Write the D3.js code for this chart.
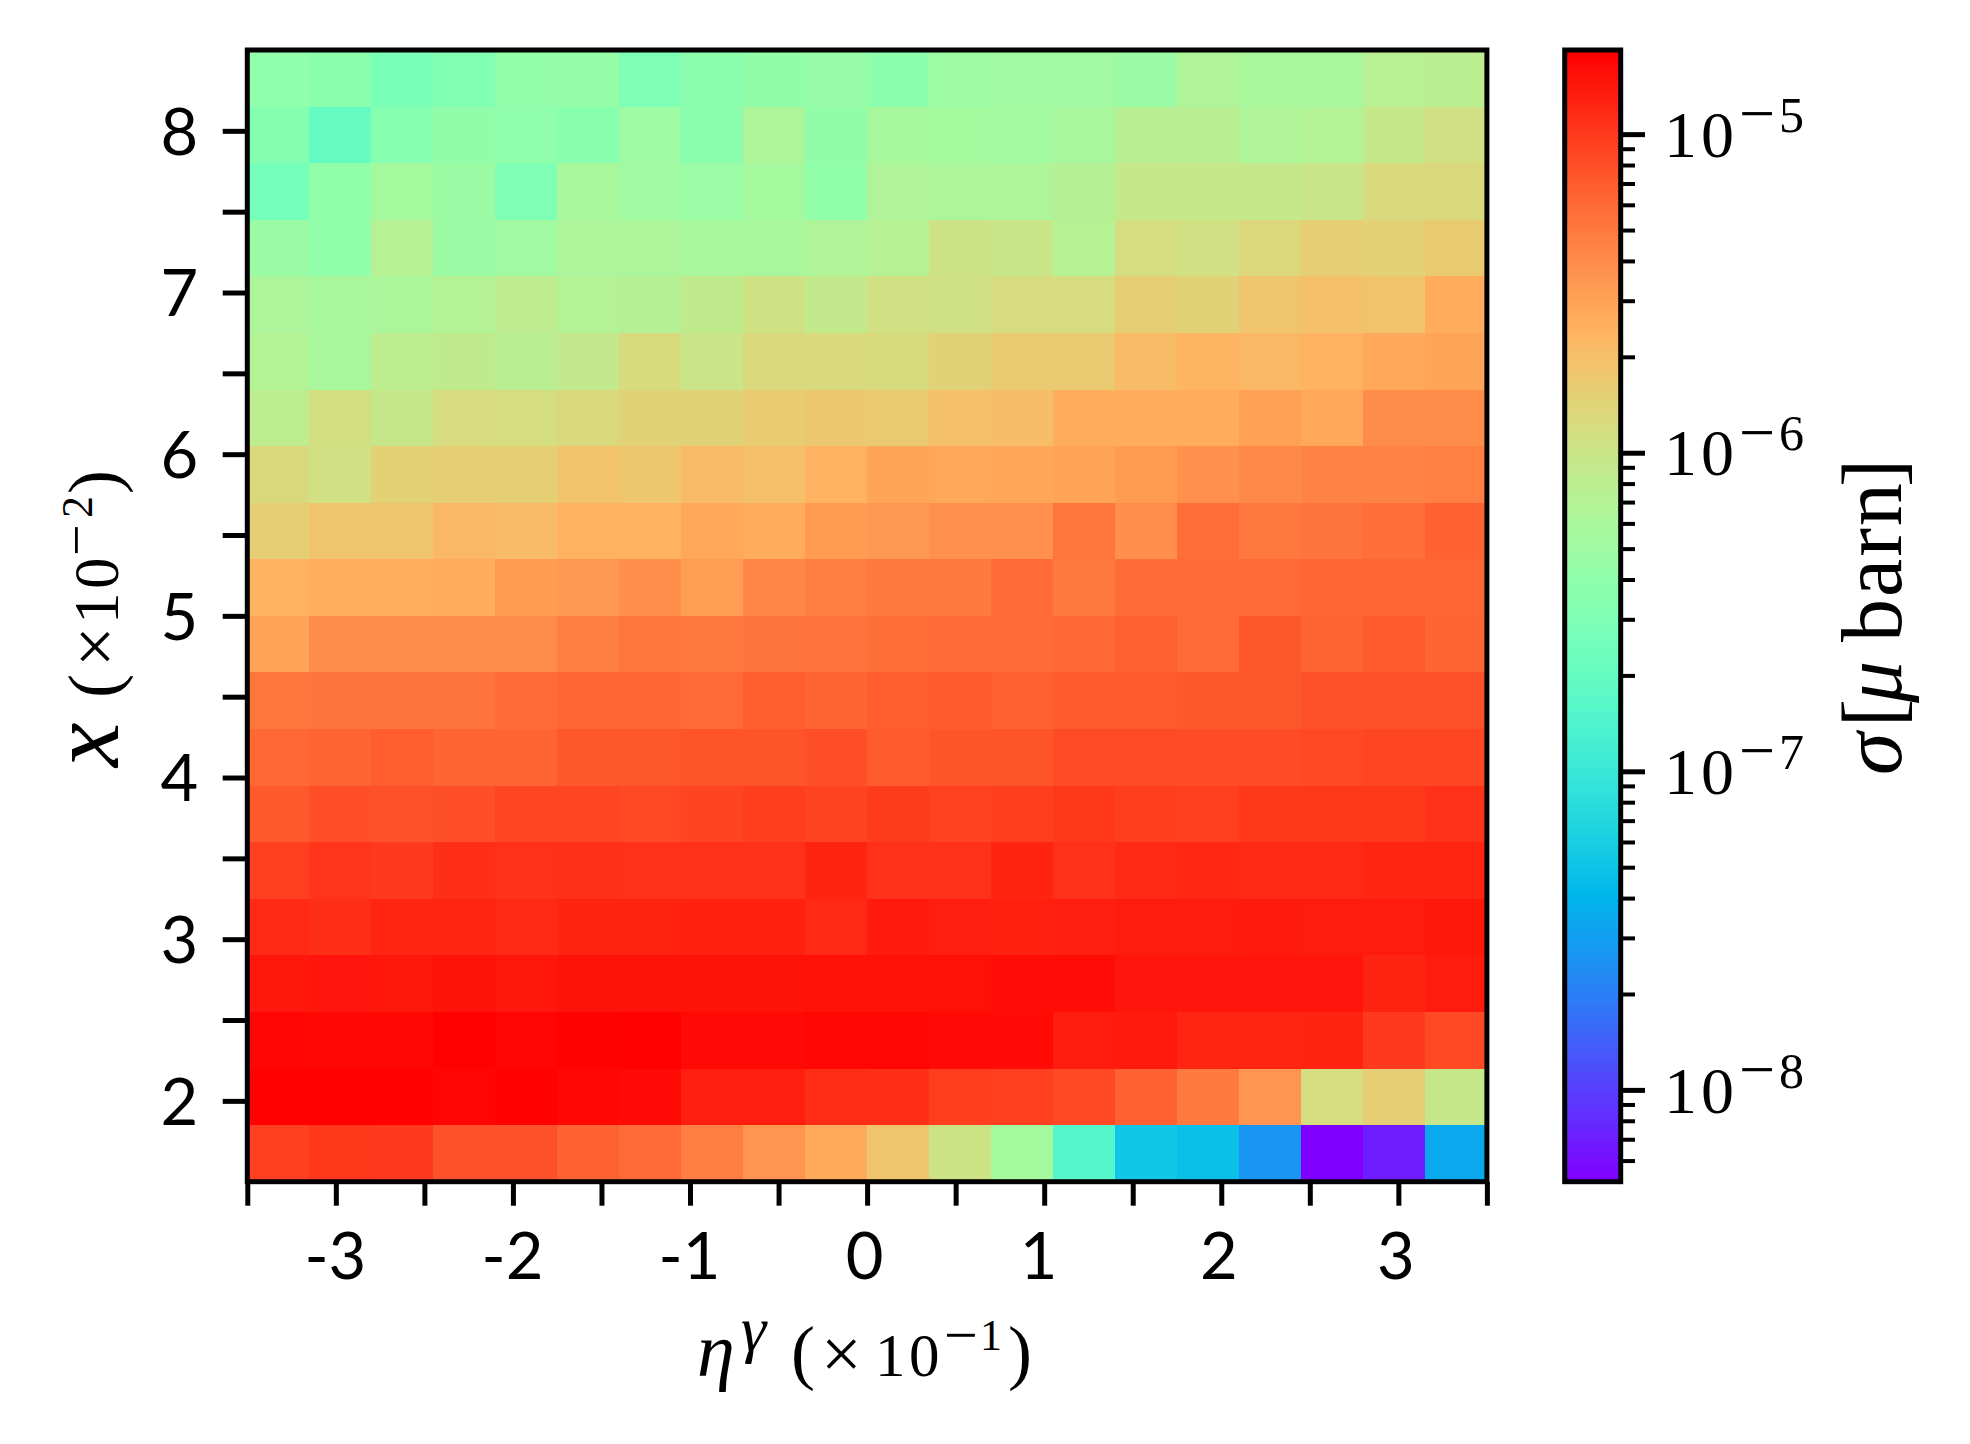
<!DOCTYPE html>
<html>
<head>
<meta charset="utf-8">
<script src="https://cdn.jsdelivr.net/npm/d3@7"></script>
<style>
  body { margin: 0; background: white; }
  .sans { font-family: "Lato", sans-serif; }
  .serif { font-family: "Liberation Serif", serif; }
</style>
</head>
<body>
<div id="chart"></div>
<script>
// bin edges of the 2d histogram
var etaEdges = [-3.5, -3.15, -2.8, -2.45, -2.1, -1.75, -1.4, -1.05, -0.7, -0.35, 0, 0.35, 0.7, 1.05, 1.4, 1.75, 2.1, 2.45, 2.8, 3.15, 3.5];
var xEdges = [8.5, 8.15, 7.8, 7.45, 7.1, 6.75, 6.4, 6.05, 5.7, 5.35, 5, 4.65, 4.3, 3.95, 3.6, 3.25, 2.9, 2.55, 2.2, 1.85, 1.5];

// log10(sigma) per bin, top row first
var row00 = [-6.40, -6.43, -6.55, -6.50, -6.37, -6.36, -6.52, -6.43, -6.38, -6.35, -6.42, -6.31, -6.28, -6.28, -6.32, -6.18, -6.23, -6.23, -6.12, -6.10];
var row01 = [-6.48, -6.70, -6.47, -6.38, -6.40, -6.45, -6.30, -6.44, -6.19, -6.38, -6.24, -6.26, -6.27, -6.23, -6.11, -6.11, -6.18, -6.15, -6.03, -5.95];
var row02 = [-6.58, -6.39, -6.26, -6.32, -6.52, -6.22, -6.28, -6.33, -6.26, -6.39, -6.18, -6.20, -6.19, -6.14, -6.03, -6.03, -6.03, -6.01, -5.89, -5.88];
var row03 = [-6.32, -6.39, -6.13, -6.32, -6.28, -6.20, -6.20, -6.23, -6.23, -6.18, -6.13, -5.97, -6.01, -6.13, -5.92, -5.95, -5.87, -5.80, -5.82, -5.77];
var row04 = [-6.20, -6.22, -6.21, -6.15, -6.07, -6.15, -6.14, -6.06, -5.96, -6.05, -5.95, -5.96, -5.91, -5.91, -5.80, -5.83, -5.73, -5.70, -5.72, -5.58];
var row05 = [-6.15, -6.23, -6.08, -6.06, -6.11, -6.05, -5.90, -6.00, -5.88, -5.89, -5.90, -5.83, -5.77, -5.77, -5.67, -5.62, -5.65, -5.61, -5.55, -5.53];
var row06 = [-6.08, -5.94, -6.02, -5.91, -5.92, -5.88, -5.83, -5.83, -5.78, -5.75, -5.77, -5.70, -5.68, -5.58, -5.58, -5.57, -5.50, -5.55, -5.40, -5.40];
var row07 = [-5.88, -5.95, -5.82, -5.80, -5.81, -5.72, -5.74, -5.67, -5.70, -5.61, -5.53, -5.55, -5.54, -5.52, -5.48, -5.42, -5.38, -5.35, -5.35, -5.33];
var row08 = [-5.80, -5.73, -5.73, -5.65, -5.67, -5.61, -5.61, -5.55, -5.57, -5.48, -5.46, -5.42, -5.42, -5.28, -5.41, -5.24, -5.29, -5.27, -5.24, -5.18];
var row09 = [-5.61, -5.59, -5.59, -5.58, -5.48, -5.46, -5.41, -5.49, -5.36, -5.32, -5.29, -5.30, -5.22, -5.30, -5.23, -5.22, -5.22, -5.20, -5.20, -5.20];
var row10 = [-5.52, -5.40, -5.40, -5.40, -5.40, -5.32, -5.28, -5.29, -5.27, -5.26, -5.25, -5.23, -5.23, -5.21, -5.17, -5.22, -5.13, -5.19, -5.15, -5.19];
var row11 = [-5.28, -5.27, -5.27, -5.27, -5.23, -5.20, -5.20, -5.22, -5.16, -5.19, -5.16, -5.15, -5.17, -5.15, -5.15, -5.13, -5.13, -5.10, -5.10, -5.10];
var row12 = [-5.21, -5.19, -5.16, -5.19, -5.19, -5.13, -5.13, -5.11, -5.11, -5.09, -5.15, -5.11, -5.11, -5.07, -5.07, -5.08, -5.08, -5.06, -5.05, -5.05];
var row13 = [-5.14, -5.09, -5.10, -5.09, -5.05, -5.05, -5.06, -5.04, -5.01, -5.04, -5.00, -5.03, -5.01, -4.98, -5.01, -5.02, -4.98, -4.98, -4.98, -4.96];
var row14 = [-5.02, -4.97, -4.99, -4.94, -4.96, -4.95, -4.96, -4.96, -4.96, -4.89, -4.96, -4.96, -4.89, -4.96, -4.92, -4.91, -4.92, -4.92, -4.90, -4.90];
var row15 = [-4.92, -4.94, -4.90, -4.90, -4.92, -4.89, -4.89, -4.88, -4.88, -4.92, -4.85, -4.87, -4.88, -4.87, -4.86, -4.86, -4.85, -4.86, -4.86, -4.84];
var row16 = [-4.84, -4.83, -4.84, -4.82, -4.84, -4.82, -4.82, -4.82, -4.82, -4.81, -4.81, -4.81, -4.79, -4.79, -4.83, -4.83, -4.83, -4.83, -4.89, -4.86];
var row17 = [-4.76, -4.77, -4.77, -4.74, -4.76, -4.75, -4.74, -4.78, -4.78, -4.77, -4.77, -4.78, -4.78, -4.86, -4.85, -4.90, -4.90, -4.89, -4.99, -5.06];
var row18 = [-4.74, -4.74, -4.74, -4.76, -4.74, -4.77, -4.78, -4.87, -4.87, -4.93, -4.94, -5.01, -5.02, -5.06, -5.17, -5.30, -5.44, -5.92, -5.80, -6.02];
var row19 = [-5.02, -4.98, -4.99, -5.10, -5.10, -5.18, -5.22, -5.32, -5.44, -5.56, -5.73, -5.97, -6.26, -6.81, -7.28, -7.33, -7.58, -8.29, -8.16, -7.47];

var rows = [row00, row01, row02, row03, row04, row05, row06, row07, row08, row09,
            row10, row11, row12, row13, row14, row15, row16, row17, row18, row19];

var etaTicks = [-3.5, -3, -2.5, -2, -1.5, -1, -0.5, 0, 0.5, 1, 1.5, 2, 2.5, 3, 3.5];
var xTicks = [2, 2.5, 3, 3.5, 4, 4.5, 5, 5.5, 6, 6.5, 7, 7.5, 8];
var cbarMajor = [1e-8, 1e-7, 1e-6, 1e-5];
var cbarExponents = ["\u22128", "\u22127", "\u22126", "\u22125"];
var sigmaMin = 5.15e-9, sigmaMax = 1.837e-5;

var left = 247.3, right = 1486.9, top_ = 50, bottom = 1181.7;
var cbLeft = 1564.7, cbRight = 1620.7;

var svg = d3.select("#chart").append("svg")
    .attr("width", 1970)
    .attr("height", 1444)
    .style("display", "block");

var xScale = d3.scaleLinear().domain([-3.5, 3.5]).range([left, right]);
var yScale = d3.scaleLinear().domain([1.5, 8.5]).range([bottom, top_]);
var colorPos = d3.scaleLog().domain([sigmaMin, sigmaMax]).range([0, 1]).clamp(true);
var cbScale = d3.scaleLog().domain([sigmaMin, sigmaMax]).range([bottom, top_]);

// matplotlib's "rainbow" colormap
function rainbow(t) {
    var r = Math.min(1, Math.abs(2 * t - 0.5));
    var g = Math.sin(t * Math.PI);
    var b = Math.cos(t * Math.PI / 2);
    return d3.rgb(r * 255, g * 255, b * 255).formatHex();
}

// heatmap cells
var cells = [];
rows.forEach(function(row, i) {
    row.forEach(function(v, j) {
        cells.push({i: i, j: j, sigma: Math.pow(10, v)});
    });
});

svg.append("g")
    .selectAll("rect")
    .data(cells)
    .join("rect")
    .attr("x", d => xScale(etaEdges[d.j]))
    .attr("y", d => yScale(xEdges[d.i]))
    .attr("width", d => xScale(etaEdges[d.j + 1]) - xScale(etaEdges[d.j]))
    .attr("height", d => yScale(xEdges[d.i + 1]) - yScale(xEdges[d.i]))
    .attr("fill", d => rainbow(colorPos(d.sigma)))
    .attr("shape-rendering", "crispEdges");

// axes: ticks on every half unit, labels only on the integers
var xAxis = d3.axisBottom(xScale)
    .tickValues(etaTicks)
    .tickSize(24)
    .tickFormat(d => Number.isInteger(d) ? String(d) : "");
var gx = svg.append("g").attr("transform", `translate(0,${bottom})`).call(xAxis);

var yAxis = d3.axisLeft(yScale)
    .tickValues(xTicks)
    .tickSize(24.6)
    .tickFormat(d => Number.isInteger(d) ? String(d) : "");
var gy = svg.append("g").attr("transform", `translate(${left},0)`).call(yAxis);

[gx, gy].forEach(function(g) {
    g.select(".domain").remove();
    g.selectAll(".tick line").attr("stroke", "black").attr("stroke-width", 5);
    g.selectAll(".tick text")
        .attr("class", "sans")
        .style("font-size", "65px")
        .attr("fill", "black");
});
gx.selectAll(".tick text").attr("y", 0).attr("dy", 0)
    .attr("transform", d => `translate(${d < 0 ? -1 : d == 1 ? -6 : -3},97)`);
gy.selectAll(".tick text").attr("x", -49).attr("dy", "0.36em");

// plot frame
svg.append("rect")
    .attr("x", left).attr("y", top_)
    .attr("width", right - left).attr("height", bottom - top_)
    .attr("fill", "none").attr("stroke", "black").attr("stroke-width", 5);

// colorbar
var cbLevels = d3.range(256);
var cbStep = (bottom - top_) / 256;
svg.append("g")
    .selectAll("rect")
    .data(cbLevels)
    .join("rect")
    .attr("x", cbLeft)
    .attr("y", d => top_ + (255 - d) * cbStep)
    .attr("width", cbRight - cbLeft)
    .attr("height", cbStep + 0.5)
    .attr("fill", d => rainbow(d / 255))
    .attr("shape-rendering", "crispEdges");

var minorTicks = cbScale.ticks().filter(d => !cbarMajor.some(m => Math.abs(m / d - 1) < 1e-6));

var gMinor = svg.append("g").attr("transform", `translate(${cbRight},0)`)
    .call(d3.axisRight(cbScale).tickValues(minorTicks).tickSize(14.3).tickFormat(""));
var gMajor = svg.append("g").attr("transform", `translate(${cbRight},0)`)
    .call(d3.axisRight(cbScale).tickValues(cbarMajor).tickSize(24.3).tickFormat(""));
gMinor.select(".domain").remove();
gMajor.select(".domain").remove();
gMinor.selectAll("line").attr("stroke", "black").attr("stroke-width", 4);
gMajor.selectAll("line").attr("stroke", "black").attr("stroke-width", 5);

svg.append("rect")
    .attr("x", cbLeft).attr("y", top_)
    .attr("width", cbRight - cbLeft).attr("height", bottom - top_)
    .attr("fill", "none").attr("stroke", "black").attr("stroke-width", 5);

// colorbar tick labels
var cbLabels = svg.append("g").attr("class", "serif").attr("fill", "black");
cbarMajor.forEach(function(m, i) {
    var y0 = cbScale(m);
    var t = cbLabels.append("text");
    t.append("tspan").attr("x", 1664).attr("y", y0 + 22.7)
        .style("font-size", "66px").style("letter-spacing", "4px").text("10");
    t.append("tspan").attr("x", 1739).attr("y", y0 + 1)
        .style("font-size", "64px").text(cbarExponents[i].charAt(0));
    t.append("tspan").attr("x", 1779).attr("y", y0 - 2.3)
        .style("font-size", "50px").text(cbarExponents[i].charAt(1));
});

// math labels, one text with separately placed pieces
function mathLabel(parts, transform) {
    var t = svg.append("text").attr("class", "serif").attr("fill", "black");
    if (transform) t.attr("transform", transform);
    parts.forEach(function(p) {
        t.append("tspan")
            .attr("x", p.x).attr("y", p.y)
            .style("font-size", p.size + "px")
            .style("font-style", p.italic ? "italic" : "normal")
            .style("letter-spacing", p.spacing || "0")
            .text(p.text);
    });
}

mathLabel([
    {text: "\u03b7", x: 697, y: 1376, size: 76, italic: true},
    {text: "\u03b3", x: 741, y: 1350, size: 64, italic: true},
    {text: "(", x: 791, y: 1376, size: 72},
    {text: "\u00d7", x: 821, y: 1378, size: 72},
    {text: "10", x: 875, y: 1376, size: 61, spacing: "3.5px"},
    {text: "\u2212", x: 944, y: 1354.6, size: 60},
    {text: "1", x: 980, y: 1350, size: 44},
    {text: ")", x: 1008, y: 1376, size: 72}
]);

// y label, rotated: local x is minus the screen y, local y is the screen x
mathLabel([
    {text: "x", x: -767, y: 117.7, size: 100, italic: true},
    {text: "(", x: -698, y: 117.7, size: 72},
    {text: "\u00d7", x: -667, y: 119, size: 72},
    {text: "10", x: -624, y: 117.7, size: 63, spacing: "3.5px"},
    {text: "\u2212", x: -556, y: 94.5, size: 56},
    {text: "2", x: -518, y: 91.7, size: 44},
    {text: ")", x: -494, y: 117.7, size: 72}
], "rotate(-90)");

// colorbar label
mathLabel([
    {text: "\u03c3", x: -775, y: 1900.7, size: 86, italic: true},
    {text: "[", x: -727, y: 1900.7, size: 84},
    {text: "\u03bc", x: -703, y: 1900.7, size: 84, italic: true},
    {text: "barn", x: -642, y: 1900.7, size: 86, spacing: "2px"},
    {text: "]", x: -487, y: 1900.7, size: 84}
], "rotate(-90)");
</script>
</body>
</html>
